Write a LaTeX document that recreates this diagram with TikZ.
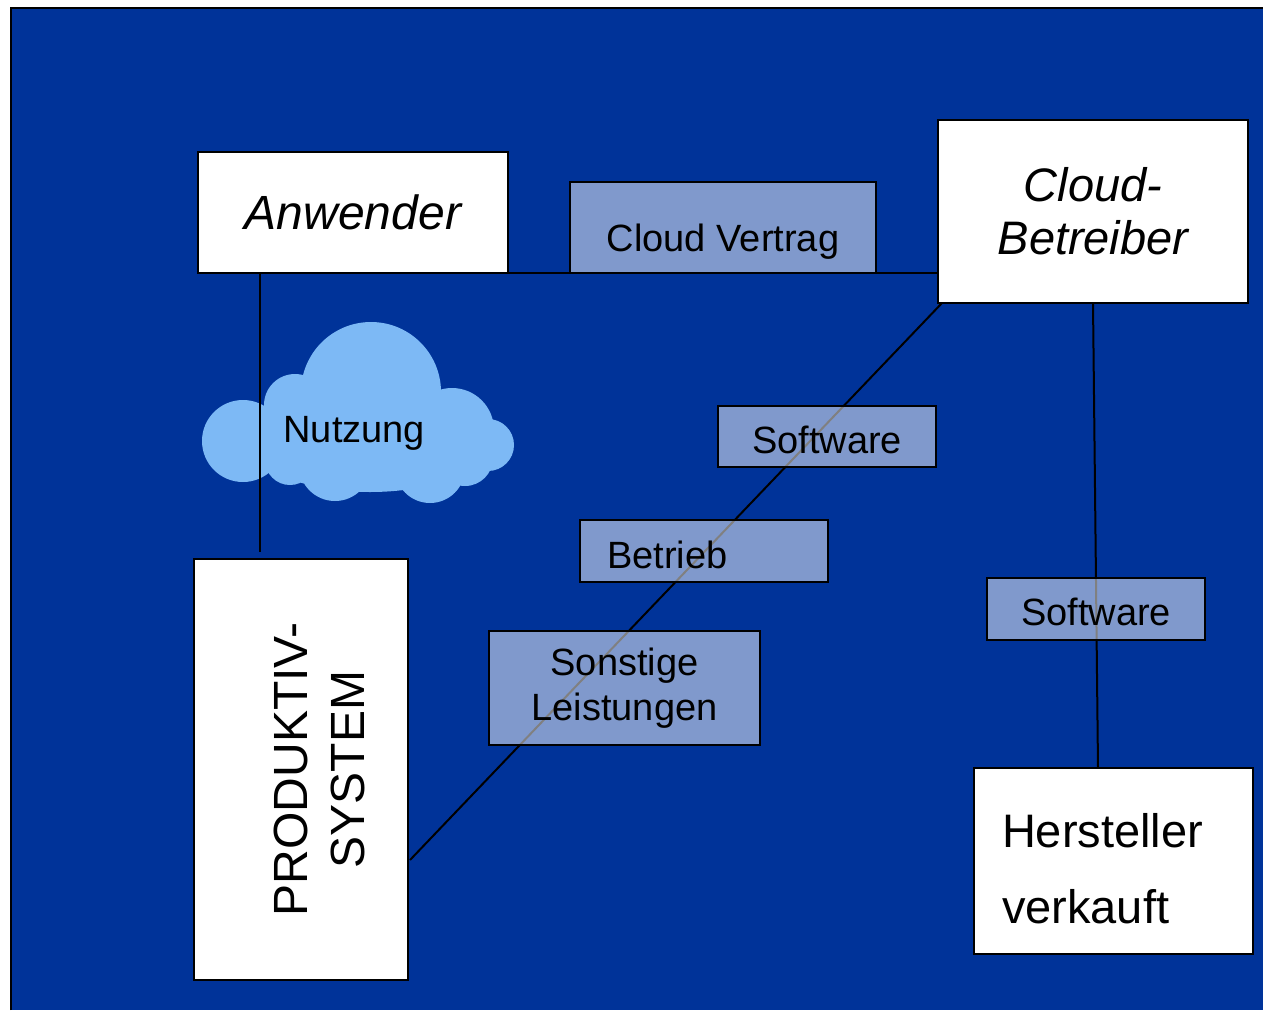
\documentclass[tikz,border=0pt]{standalone}
\usepackage{fontspec}
\setmainfont{Liberation Sans}
\usepackage{xcolor}
\usetikzlibrary{calc}
\definecolor{folie}{RGB}{0,51,153}
\definecolor{wolke}{RGB}{125,185,245}
\tikzset{
  kasten/.style={draw=black, fill=white, line width=2.5pt, inner sep=0pt, outer sep=0pt},
  schild/.style={draw=black, fill=white, fill opacity=0.5, text opacity=1, line width=2.5pt,
    inner sep=0pt, outer sep=0pt, font=\fontsize{38}{45}\selectfont},
  einzeilig/.style={text height=#1, text depth=0pt},
  einzeilig/.default=33pt,
  linie/.style={black, line width=2pt}
}
\begin{document}
\begin{tikzpicture}[x=1pt,y=-1pt]
\useasboundingbox (0,0) rectangle (1263,1010);
\fill[folie] (11,8) rectangle (1263,1010);
\draw[line width=2.5pt] (11,1010) -- (11,8) -- (1263,8);
% Wolke
\fill[wolke] (243,441) circle (41pt) (295,405) circle (31pt) (371,392) circle (70pt)
  (452,430) circle (42pt) (488,445) circle (26pt) (290,460) circle (25pt)
  (335,465) circle (36pt) (430,468) circle (35pt) (465,458) circle (28pt)
  (370,450) ellipse (110pt and 42pt);
% Kaesten
\node[kasten, minimum width=310pt, minimum height=121pt, font=\itshape\fontsize{48}{53}\selectfont]
  (anwender) at (353,212.5) {Anwender};
\node[kasten, minimum width=310pt, minimum height=183pt, align=center, font=\itshape\fontsize{47}{53}\selectfont]
  (betreiber) at (1093,211.5) {Cloud-\\Betreiber};
\node[kasten, rotate=90, minimum width=421pt, minimum height=214pt, align=center, font=\fontsize{48}{57}\selectfont]
  (produktiv) at (301,769.5) {\rule{0pt}{71pt}PRODUKTIV-\\SYSTEM};
\node[kasten, minimum width=279pt, minimum height=186pt, text width=223pt, align=left, font=\fontsize{47}{76}\selectfont]
  (hersteller) at (1113.5,861) {\rule{0pt}{49pt}Hersteller\\verkauft};
% Linien
\draw[linie] (anwender.south east) -- (anwender.south east -| betreiber.west);
\draw[linie] ($(anwender.south west)+(62,0)$) -- ($(produktiv.north east)+(66,-7)$);
\draw[linie] ($(produktiv.south west)+(2,-120)$) -- ($(betreiber.south west)+(4,0)$);
\draw[linie] (betreiber.south) -- ($(hersteller.north west)+(124,0)$);
% Schilder
\node[schild, einzeilig=47pt, minimum width=306pt, minimum height=91pt] (vertrag) at (723,227.5) {Cloud Vertrag};
\node[schild, einzeilig, minimum width=218pt, minimum height=61pt] (software1) at (827,436.5) {Software};
\node[schild, einzeilig=35pt, minimum width=248pt, minimum height=62pt, text width=194pt, align=left] (betrieb) at (704,551) {Betrieb};
\node[schild, minimum width=271pt, minimum height=114pt, align=center] (sonstige) at (624.5,688) {Sonstige\\Leistungen};
\node[schild, einzeilig=32pt, minimum width=218pt, minimum height=62pt] (software2) at (1096,609) {Software};
\node[anchor=base west, font=\fontsize{38}{45}\selectfont] (nutzung) at (280,442) {Nutzung};
\end{tikzpicture}
\end{document}
